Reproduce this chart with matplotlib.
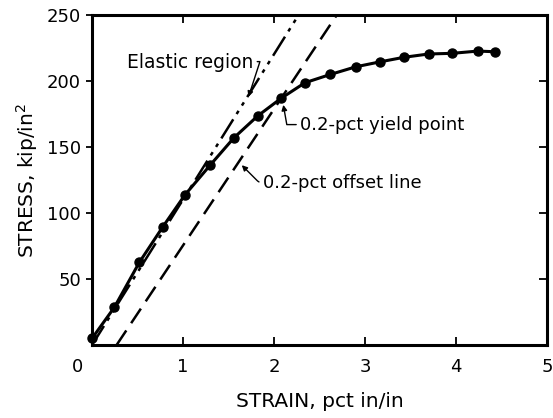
import numpy as np
import matplotlib.pyplot as plt
from matplotlib.transforms import ScaledTranslation

# stress-strain test points
strain = [0.0, 0.245, 0.52, 0.775, 1.02, 1.30, 1.56, 1.82, 2.08, 2.34,
          2.62, 2.90, 3.17, 3.43, 3.70, 3.96, 4.24, 4.43]
stress = [5, 28.5, 62.6, 89.2, 113.6, 136.4, 157, 173.5, 187, 198.7,
          205, 210.8, 214.6, 218, 220.5, 221, 222.7, 222.2]

# straight reference lines (end points)
elastic_x = [0.0, 2.27]
elastic_y = [0, 250]
offset_x = [0.27, 2.69]
offset_y = [0, 250]

fig = plt.figure(figsize=(5.53, 4.18), dpi=100)
ax = fig.add_axes([0.1664, 0.1746, 0.8226, 0.7894])

ax.plot(elastic_x, elastic_y, color='black', lw=1.8,
        dashes=[9, 2.5, 1.5, 2.5, 1.5, 2.5])
ax.plot(offset_x, offset_y, color='black', lw=1.8, dashes=[7, 3.5])
ax.plot(strain, stress, color='black', lw=2.2, marker='o', ms=6.5,
        clip_on=False, zorder=3)

ax.set_xlim(0, 5)
ax.set_ylim(0, 250)
ax.set_xticks([0, 1, 2, 3, 4, 5])
ax.set_yticks([50, 100, 150, 200, 250])

for s in ax.spines.values():
    s.set_linewidth(2.2)

ax.tick_params(axis='x', which='both', direction='in', top=True, length=6,
               width=1.3, labelsize=13, pad=9)
ax.tick_params(axis='y', which='both', direction='out', length=4,
               width=1.3, labelsize=13, pad=4)
ax.tick_params(axis='y', right=True)
# right-hand ticks point inward like the top ones
for t in ax.yaxis.get_major_ticks():
    t.tick2line.set_marker(0)
    t.tick2line.set_markersize(6)

# the origin "0" sits a little left of the corner
lbl0 = ax.get_xticklabels()[0]
lbl0.set_transform(lbl0.get_transform() + ScaledTranslation(-15 / 100, 0, fig.dpi_scale_trans))

ax.set_xlabel('STRAIN, pct in/in', fontsize=14.5, labelpad=12)
ax.set_ylabel('STRESS, kip/in$^2$', fontsize=14.5, labelpad=5)

arrow = dict(arrowstyle='-|>', color='black', lw=1.0, mutation_scale=8,
             shrinkA=1, shrinkB=1)
ax.annotate('Elastic region', xy=(1.715, 187), xytext=(1.77, 214),
            fontsize=13.5, ha='right', va='center',
            arrowprops=dict(arrow, relpos=(1, 0.55),
                            connectionstyle='angle,angleA=0,angleB=72,rad=0'))
ax.annotate('0.2-pct yield point', xy=(2.10, 183), xytext=(2.29, 167),
            fontsize=13, ha='left', va='center',
            arrowprops=dict(arrow, relpos=(0, 0.5),
                            connectionstyle='angle,angleA=0,angleB=100,rad=0'))
ax.annotate('0.2-pct offset line', xy=(1.635, 137), xytext=(1.88, 123),
            fontsize=13, ha='left', va='center',
            arrowprops=dict(arrow, relpos=(0, 0.5),
                            connectionstyle='angle,angleA=0,angleB=135,rad=3'))

fig.savefig('out.png', dpi=100)
